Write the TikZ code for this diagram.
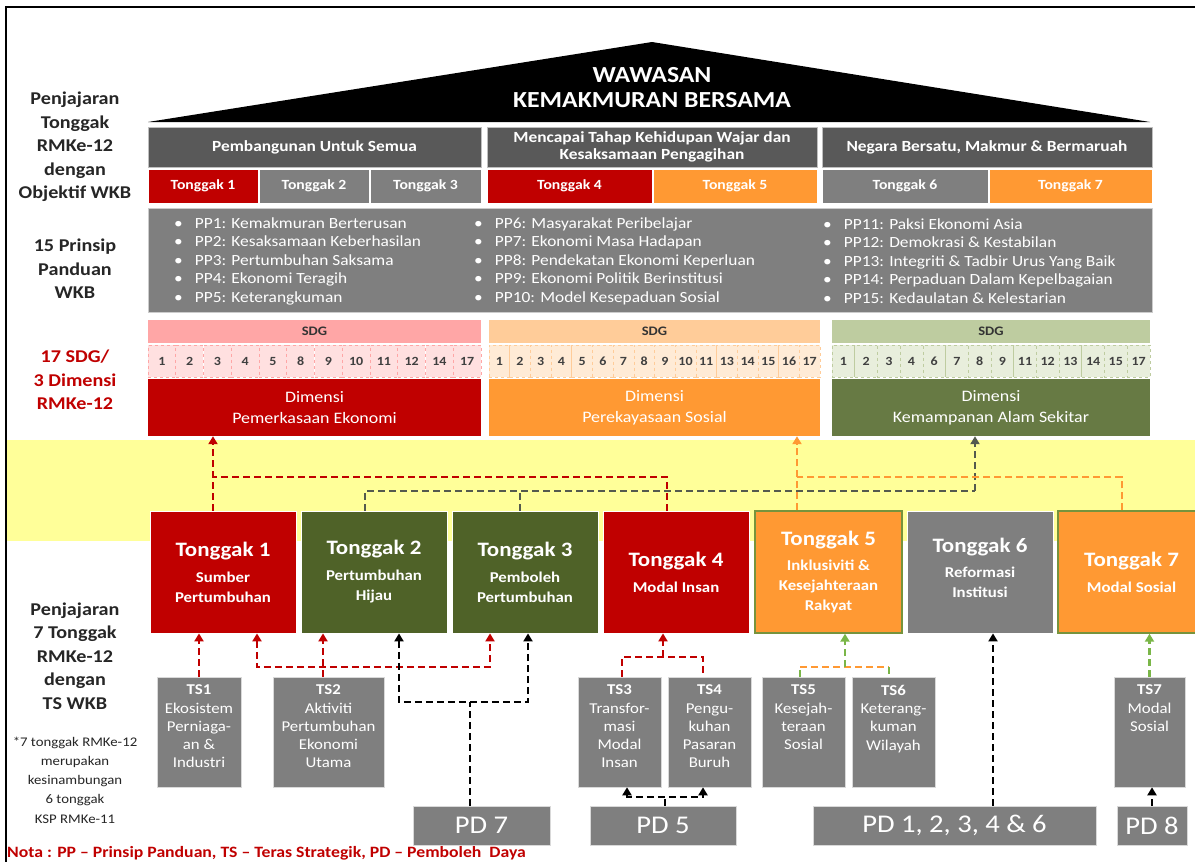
\documentclass[tikz,border=0pt]{standalone}
\usepackage{fontspec}
\setmainfont{Carlito}[FakeStretch=1.12]
\usepackage{tikz}
\usetikzlibrary{arrows.meta}
\definecolor{wkb_red}{RGB}{192, 0, 0}
\definecolor{wkb_dark}{RGB}{89, 89, 89}
\definecolor{wkb_gray}{RGB}{127, 127, 127}
\definecolor{wkb_orange}{RGB}{255, 153, 51}
\definecolor{wkb_olive}{RGB}{79, 98, 40}
\definecolor{wkb_sage}{RGB}{103, 122, 68}
\definecolor{wkb_pink}{RGB}{255, 166, 166}
\definecolor{wkb_pinkl}{RGB}{255, 224, 224}
\definecolor{wkb_peach}{RGB}{255, 204, 153}
\definecolor{wkb_peachl}{RGB}{255, 235, 214}
\definecolor{wkb_moss}{RGB}{190, 204, 160}
\definecolor{wkb_mossl}{RGB}{232, 238, 220}
\definecolor{wkb_yellow}{RGB}{255, 255, 153}
\definecolor{wkb_lime}{RGB}{122, 182, 72}
\definecolor{wkb_rim}{RGB}{119, 147, 60}
\definecolor{wkb_rail}{RGB}{84, 90, 78}
\newcommand{\wkbfont}[2]{\fontsize{#1}{#2}\selectfont}
\tikzstyle{lbl}=[align=center,text=black!85,font=\bfseries\wkbfont{18}{23.5},inner sep=0pt]
\tikzstyle{lblr}=[lbl,text=wkb_red]
\tikzstyle{note}=[align=center,text=black!85,font=\wkbfont{13.2}{19.2},inner sep=0pt]
\tikzstyle{nota}=[anchor=west,text=wkb_red,font=\bfseries\wkbfont{15.8}{17},inner sep=0pt]
\tikzstyle{roof}=[align=center,text=white,font=\bfseries\wkbfont{23}{25},inner sep=0pt]
\tikzstyle{hd}=[rectangle,fill=wkb_dark,draw=black!25,line width=0.6pt,text=white,
  font=\bfseries\wkbfont{15.5}{17.5},align=center,minimum height=40pt,inner sep=0pt]
\tikzstyle{tcr}=[rectangle,fill=wkb_red,draw=white,line width=0.8pt,text=white,
  font=\bfseries\wkbfont{14}{16},minimum height=34pt,inner sep=0pt]
\tikzstyle{tcg}=[tcr,fill=wkb_gray]
\tikzstyle{tco}=[tcr,fill=wkb_orange]
\tikzstyle{ppbox}=[rectangle,fill=wkb_gray,draw=black!20,line width=0.6pt,inner sep=0pt]
\tikzstyle{pp}=[anchor=west,align=left,text=white,font=\wkbfont{15.5}{18.5},inner sep=0pt]
\tikzstyle{sdgr}=[rectangle,fill=wkb_pink,text=black!80,font=\bfseries\wkbfont{13}{15},
  minimum height=23pt,inner sep=0pt]
\tikzstyle{sdgo}=[sdgr,fill=wkb_peach]
\tikzstyle{sdgg}=[sdgr,fill=wkb_moss]
\tikzstyle{numr}=[rectangle,fill=wkb_pinkl,draw=wkb_pink,dashed,line width=0.6pt,
  text=black!75,font=\bfseries\wkbfont{12.5}{14},minimum height=32pt,inner sep=0pt]
\tikzstyle{numo}=[numr,fill=wkb_peachl,draw=wkb_peach]
\tikzstyle{numg}=[numr,fill=wkb_mossl,draw=wkb_moss]
\tikzstyle{dimr}=[rectangle,fill=wkb_red,text=white,font=\wkbfont{16}{21},align=center,
  minimum height=57pt,inner sep=0pt]
\tikzstyle{dimo}=[dimr,fill=wkb_orange]
\tikzstyle{dimg}=[dimr,fill=wkb_sage]
\tikzstyle{bigr}=[rectangle,fill=wkb_red,draw=white,line width=0.8pt,text=white,align=center,
  font=\bfseries\wkbfont{15}{20},minimum width=146pt,minimum height=122pt,inner sep=0pt]
\tikzstyle{bigg}=[bigr,fill=wkb_olive]
\tikzstyle{bigo}=[bigr,fill=wkb_orange,draw=wkb_rim,line width=1.4pt]
\tikzstyle{bigk}=[bigr,fill=wkb_gray]
\tikzstyle{ts}=[rectangle,fill=wkb_gray,draw=black!15,line width=0.6pt,minimum height=110pt,inner sep=0pt]
\tikzstyle{tst}=[anchor=north,align=center,text=white,font=\wkbfont{15}{18.3},inner sep=0pt]
\tikzstyle{pd}=[rectangle,fill=wkb_gray,draw=black!15,line width=0.6pt,text=white,
  font=\wkbfont{25.5}{27},minimum height=39pt,inner sep=0pt]
\tikzstyle{rdash}=[draw=wkb_red,line width=2.8pt,dash pattern=on 7pt off 4pt]
\tikzstyle{gdash}=[draw=wkb_rail,line width=2.6pt,dash pattern=on 7pt off 4pt]
\tikzstyle{odash}=[draw=wkb_orange,line width=2.4pt,dash pattern=on 7pt off 4pt]
\tikzstyle{ldash}=[draw=wkb_lime,line width=2.4pt,dash pattern=on 7pt off 4pt]
\tikzstyle{kdash}=[draw=black,line width=2.8pt,dash pattern=on 7pt off 4pt]
\tikzstyle{arr}=[-{Triangle[length=8pt,width=9pt]}]
\tikzstyle{arr2}=[{Triangle[length=8pt,width=9pt]}-{Triangle[length=8pt,width=9pt]}]
\tikzstyle{none}=[]

\begin{document}
\begin{tikzpicture}[x=1pt,y=-1pt]
    \useasboundingbox (0,0) rectangle (1195,862);
    \fill [white] (0,0) rectangle (1195,862);
    \fill [wkb_yellow] (7,440) rectangle (1195,541);
    \draw [line width=2pt] (6,870) -- (6,7) -- (1200,7);
    \fill [black] (148,122) -- (652,42) -- (1150,122) -- cycle;

    % left labels
    \node [style=lbl] (0) at (75,147) {Penjajaran\\Tonggak\\RMKe-12\\dengan\\Objektif WKB};
    \node [style=lbl] (1) at (75,269) {15 Prinsip\\Panduan\\WKB};
    \node [style=lblr] (2) at (75,380) {17 SDG/\\3 Dimensi\\RMKe-12};
    \node [style=lbl] (3) at (75,656) {Penjajaran\\7 Tonggak\\RMKe-12\\dengan\\TS WKB};
    \node [style=note] (4) at (75,780) {*7 tonggak RMKe-12\\merupakan\\kesinambungan\\6 tonggak\\KSP RMKe-11};
    \node [style=nota] (5) at (7,853) {Nota : PP -- Prinsip Panduan, TS -- Teras Strategik, PD -- Pemboleh\ \ Daya};
    \node [style=roof] (6) at (652,88) {WAWASAN\\KEMAKMURAN BERSAMA};

    % objektif + tonggak
    \node [style=hd, minimum width=333pt] (7) at (314.5,147) {Pembangunan Untuk Semua};
    \node [style=hd, minimum width=330pt] (8) at (652,147) {Mencapai Tahap Kehidupan Wajar dan\\Kesaksamaan Pengagihan};
    \node [style=hd, minimum width=330pt] (9) at (987,147) {Negara Bersatu, Makmur \& Bermaruah};
    \node [style=tcr, minimum width=110pt] (10) at (203,186) {Tonggak 1};
    \node [style=tcg, minimum width=110pt] (11) at (314,186) {Tonggak 2};
    \node [style=tcg, minimum width=111pt] (12) at (425.5,186) {Tonggak 3};
    \node [style=tcr, minimum width=165pt] (13) at (569.5,186) {Tonggak 4};
    \node [style=tco, minimum width=164pt] (14) at (735,186) {Tonggak 5};
    \node [style=tcg, minimum width=166pt] (15) at (905,186) {Tonggak 6};
    \node [style=tco, minimum width=163pt] (16) at (1070.5,186) {Tonggak 7};

    % prinsip panduan
    \node [style=ppbox, minimum width=1004pt, minimum height=104pt] (17) at (650,260) {};
    \node [style=pp] (18) at (174,261) {\textbullet\hspace{12pt}PP1: Kemakmuran Berterusan\\\textbullet\hspace{12pt}PP2: Kesaksamaan Keberhasilan\\\textbullet\hspace{12pt}PP3: Pertumbuhan Saksama\\\textbullet\hspace{12pt}PP4: Ekonomi Teragih\\\textbullet\hspace{12pt}PP5: Keterangkuman};
    \node [style=pp] (19) at (474,261) {\textbullet\hspace{12pt}PP6: Masyarakat Peribelajar\\\textbullet\hspace{12pt}PP7: Ekonomi Masa Hadapan\\\textbullet\hspace{12pt}PP8: Pendekatan Ekonomi Keperluan\\\textbullet\hspace{12pt}PP9: Ekonomi Politik Berinstitusi\\\textbullet\hspace{12pt}PP10: Model Kesepaduan Sosial};
    \node [style=pp] (20) at (823,261) {\textbullet\hspace{12pt}PP11: Paksi Ekonomi Asia\\\textbullet\hspace{12pt}PP12: Demokrasi \& Kestabilan\\\textbullet\hspace{12pt}PP13: Integriti \& Tadbir Urus Yang Baik\\\textbullet\hspace{12pt}PP14: Perpaduan Dalam Kepelbagaian\\\textbullet\hspace{12pt}PP15: Kedaulatan \& Kelestarian};

    % sdg / dimensi ekonomi
    \node [style=sdgr, minimum width=333pt] (21) at (314.5,331.5) {SDG};
    \node [style=numr, minimum width=27.75pt] (22) at (161.9,361) {1};
    \node [style=numr, minimum width=27.75pt] (23) at (189.6,361) {2};
    \node [style=numr, minimum width=27.75pt] (24) at (217.4,361) {3};
    \node [style=numr, minimum width=27.75pt] (25) at (245.1,361) {4};
    \node [style=numr, minimum width=27.75pt] (26) at (272.9,361) {5};
    \node [style=numr, minimum width=27.75pt] (27) at (300.6,361) {8};
    \node [style=numr, minimum width=27.75pt] (28) at (328.4,361) {9};
    \node [style=numr, minimum width=27.75pt] (29) at (356.1,361) {10};
    \node [style=numr, minimum width=27.75pt] (30) at (383.9,361) {11};
    \node [style=numr, minimum width=27.75pt] (31) at (411.6,361) {12};
    \node [style=numr, minimum width=27.75pt] (32) at (439.4,361) {14};
    \node [style=numr, minimum width=27.75pt] (33) at (467.1,361) {17};
    \node [style=dimr, minimum width=333pt] (34) at (314.5,407.5) {Dimensi\\Pemerkasaan Ekonomi};

    % sdg / dimensi sosial
    \node [style=sdgo, minimum width=331pt] (35) at (654.5,331.5) {SDG};
    \node [style=numo, minimum width=20.69pt] (36) at (499.3,361) {1};
    \node [style=numo, minimum width=20.69pt] (37) at (520.0,361) {2};
    \node [style=numo, minimum width=20.69pt] (38) at (540.7,361) {3};
    \node [style=numo, minimum width=20.69pt] (39) at (561.4,361) {4};
    \node [style=numo, minimum width=20.69pt] (40) at (582.1,361) {5};
    \node [style=numo, minimum width=20.69pt] (41) at (602.8,361) {6};
    \node [style=numo, minimum width=20.69pt] (42) at (623.5,361) {7};
    \node [style=numo, minimum width=20.69pt] (43) at (644.2,361) {8};
    \node [style=numo, minimum width=20.69pt] (44) at (664.8,361) {9};
    \node [style=numo, minimum width=20.69pt] (45) at (685.5,361) {10};
    \node [style=numo, minimum width=20.69pt] (46) at (706.2,361) {11};
    \node [style=numo, minimum width=20.69pt] (47) at (726.9,361) {13};
    \node [style=numo, minimum width=20.69pt] (48) at (747.6,361) {14};
    \node [style=numo, minimum width=20.69pt] (49) at (768.3,361) {15};
    \node [style=numo, minimum width=20.69pt] (50) at (789.0,361) {16};
    \node [style=numo, minimum width=20.69pt] (51) at (809.7,361) {17};
    \node [style=dimo, minimum width=331pt] (52) at (654.5,407.5) {Dimensi\\Perekayasaan Sosial};

    % sdg / dimensi alam sekitar
    \node [style=sdgg, minimum width=318pt] (53) at (991,331.5) {SDG};
    \node [style=numg, minimum width=22.71pt] (54) at (843.4,361) {1};
    \node [style=numg, minimum width=22.71pt] (55) at (866.1,361) {2};
    \node [style=numg, minimum width=22.71pt] (56) at (888.8,361) {3};
    \node [style=numg, minimum width=22.71pt] (57) at (911.5,361) {4};
    \node [style=numg, minimum width=22.71pt] (58) at (934.2,361) {6};
    \node [style=numg, minimum width=22.71pt] (59) at (956.9,361) {7};
    \node [style=numg, minimum width=22.71pt] (60) at (979.6,361) {8};
    \node [style=numg, minimum width=22.71pt] (61) at (1002.3,361) {9};
    \node [style=numg, minimum width=22.71pt] (62) at (1025.0,361) {11};
    \node [style=numg, minimum width=22.71pt] (63) at (1047.7,361) {12};
    \node [style=numg, minimum width=22.71pt] (64) at (1070.4,361) {13};
    \node [style=numg, minimum width=22.71pt] (65) at (1093.1,361) {14};
    \node [style=numg, minimum width=22.71pt] (66) at (1115.8,361) {15};
    \node [style=numg, minimum width=22.71pt] (67) at (1138.6,361) {17};
    \node [style=dimg, minimum width=318pt] (68) at (991,407.5) {Dimensi\\Kemampanan Alam Sekitar};

    % 7 tonggak
    \node [style=bigr] (70) at (223,572) {{\wkbfont{20.5}{24}Tonggak 1}\\[6pt]Sumber\\Pertumbuhan};
    \node [style=bigg] (71) at (374,572) {{\wkbfont{20.5}{24}Tonggak 2}\\[6pt]Pertumbuhan\\Hijau};
    \node [style=bigg] (72) at (525,572) {{\wkbfont{20.5}{24}Tonggak 3}\\[6pt]Pemboleh\\Pertumbuhan};
    \node [style=bigr] (73) at (676,572) {{\wkbfont{20.5}{24}Tonggak 4}\\[6pt]Modal Insan};
    \node [style=bigo, minimum width=147pt] (74) at (828.5,572) {{\wkbfont{20.5}{24}Tonggak 5}\\[5pt]Inklusiviti \&\\Kesejahteraan\\Rakyat};
    \node [style=bigk] (75) at (980,572) {{\wkbfont{20.5}{24}Tonggak 6}\\[5pt]Reformasi\\Institusi\\[-12pt]};
    \node [style=bigo, minimum width=147pt] (76) at (1131.5,572) {{\wkbfont{20.5}{24}Tonggak 7}\\[6pt]Modal Sosial};

    % teras strategik
    \node [style=ts, minimum width=84pt] (80) at (199,732) {};
    \node [style=ts, minimum width=111pt] (81) at (328.5,732) {};
    \node [style=ts, minimum width=83pt] (82) at (619.5,732) {};
    \node [style=ts, minimum width=83pt] (83) at (709.5,732) {};
    \node [style=ts, minimum width=83pt] (84) at (803.5,732) {};
    \node [style=ts, minimum width=83pt] (85) at (893.5,732) {};
    \node [style=ts, minimum width=71pt] (86) at (1149.5,732) {};
    \node [style=tst] (87) at ([yshift=-8pt]80.north) {\textbf{TS1}\\Ekosistem\\Perniaga-\\an \&\\Industri};
    \node [style=tst] (88) at ([yshift=-8pt]81.north) {\textbf{TS2}\\Aktiviti\\Pertumbuhan\\Ekonomi\\Utama};
    \node [style=tst] (89) at ([yshift=-8pt]82.north) {\textbf{TS3}\\Transfor-\\masi\\Modal\\Insan};
    \node [style=tst] (90) at ([yshift=-8pt]83.north) {\textbf{TS4}\\Pengu-\\kuhan\\Pasaran\\Buruh};
    \node [style=tst] (91) at ([yshift=-8pt]84.north) {\textbf{TS5}\\Kesejah-\\teraan\\Sosial};
    \node [style=tst] (92) at ([yshift=-8pt]85.north) {\textbf{TS6}\\Keterang-\\kuman\\Wilayah};
    \node [style=tst] (93) at ([yshift=-8pt]86.north) {\textbf{TS7}\\Modal\\Sosial};

    % pemboleh daya
    \node [style=pd, minimum width=137pt] (94) at (481.5,825.5) {PD 7};
    \node [style=pd, minimum width=146pt] (95) at (663,825.5) {PD 5};
    \node [style=pd, minimum width=283pt] (96) at (954.5,825.5) {PD 1, 2, 3, 4 \& 6};
    \node [style=pd, minimum width=70pt] (97) at (1152,825.5) {PD 8};

    % waypoints
    \node [style=none] (100) at (213,477) {};
    \node [style=none] (101) at (667,477) {};
    \node [style=none] (102) at (365,491) {};
    \node [style=none] (103) at (520,491) {};
    \node [style=none] (104) at (975,491) {};
    \node [style=none] (105) at (797,477) {};
    \node [style=none] (106) at (1122,477) {};
    \node [style=none] (107) at (257,667) {};
    \node [style=none] (108) at (323,667) {};
    \node [style=none] (109) at (490,667) {};
    \node [style=none] (110) at (399,702) {};
    \node [style=none] (111) at (470,702) {};
    \node [style=none] (112) at (528,702) {};
    \node [style=none] (113) at (622,657) {};
    \node [style=none] (114) at (663,657) {};
    \node [style=none] (115) at (703,657) {};
    \node [style=none] (116) at (800,667) {};
    \node [style=none] (117) at (845,667) {};
    \node [style=none] (118) at (889,667) {};
    \node [style=none] (119) at (993,720) {};
    \node [style=none] (120) at (627,797) {};
    \node [style=none] (121) at (665,797) {};
    \node [style=none] (122) at (703,797) {};

    % tonggak -> dimensi
    \draw [style=rdash, style=arr] (100.center |- 70.north) to (100.center |- 34.south);
    \draw [style=rdash] (101.center |- 73.north) to (101.center) to (100.center);
    \draw [style=gdash] (102.center |- 71.north) to (102.center) to (104.center);
    \draw [style=gdash] (103.center |- 72.north) to (103.center);
    \draw [style=gdash, style=arr] (104.center) to (104.center |- 68.south);
    \draw [style=odash, style=arr] (105.center |- 74.north) to (105.center |- 52.south);
    \draw [style=odash] (106.center |- 76.north) to (106.center) to (105.center);

    % ts -> tonggak
    \draw [style=rdash, style=arr] (80.north) to (80.north |- 70.south);
    \draw [style=rdash, style=arr] (108.center |- 81.north) to (108.center |- 71.south);
    \draw [style=rdash, style=arr2] (107.center |- 70.south) to (107.center) to (109.center) to (109.center |- 72.south);
    \draw [style=kdash, style=arr2] (110.center |- 71.south) to (110.center) to (112.center) to (112.center |- 72.south);
    \draw [style=kdash] (111.center |- 94.north) to (111.center);
    \draw [style=rdash] (113.center |- 82.north) to (113.center) to (115.center) to (115.center |- 83.north);
    \draw [style=rdash, style=arr] (114.center) to (114.center |- 73.south);
    \draw [style=ldash] (116.center |- 84.north) to (116.center);
    \draw [style=odash] (116.center) to (118.center);
    \draw [style=ldash] (118.center) to (118.center |- 85.north);
    \draw [style=ldash, style=arr] (117.center) to (117.center |- 74.south);
    \draw [style=kdash, style=arr] (119.center |- 96.north) to (119.center |- 75.south);
    \draw [style=ldash, style=arr] (86.north) to (86.north |- 76.south);

    % pd -> ts
    \draw [style=kdash, style=arr2] (120.center |- 82.south) to (120.center) to (122.center) to (122.center |- 83.south);
    \draw [style=kdash] (121.center |- 95.north) to (121.center);
    \draw [style=kdash, style=arr] (97.north) to (97.north |- 86.south);
\end{tikzpicture}
\end{document}
